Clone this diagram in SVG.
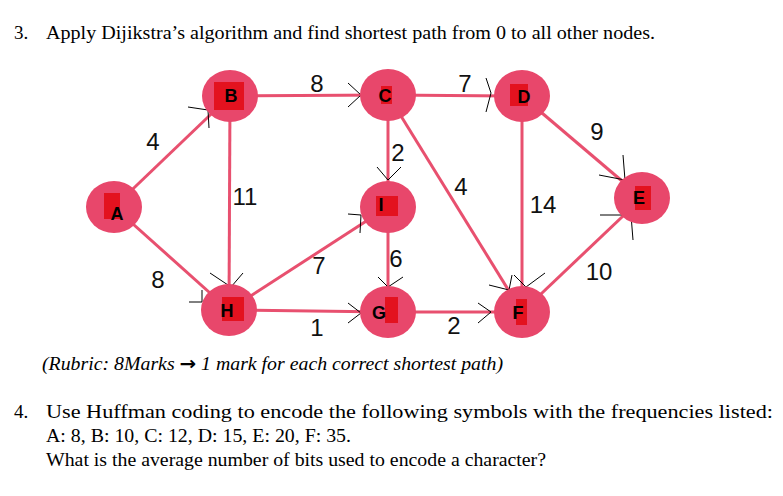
<svg xmlns="http://www.w3.org/2000/svg" width="783" height="496" viewBox="0 0 783 496">
<style>
.t{font-family:"Liberation Serif",serif;font-size:19px;fill:#000}
.e{stroke:#e8506f;stroke-width:3;fill:none}
.a{stroke:#000;stroke-width:1;fill:none}
.n{fill:#e8476b}
.b{fill:#e3121f}
.l{font-family:"Liberation Sans",sans-serif;font-weight:bold;font-size:18px;fill:#000;text-anchor:middle}
.w{font-family:"Liberation Sans",sans-serif;font-size:24px;fill:#111;text-anchor:middle}
</style>
<rect width="783" height="496" fill="#fff"/>
<text class="t" x="14" y="39">3.</text>
<text class="t" x="46" y="39" textLength="609" lengthAdjust="spacingAndGlyphs">Apply Dijikstra’s algorithm and find shortest path from 0 to all other nodes.</text>
<g id="connectors">
<line class="e" x1="114" y1="207" x2="230" y2="96"/>
<line class="e" x1="114" y1="207" x2="229" y2="310"/>
<line class="e" x1="230" y1="96" x2="388" y2="95"/>
<line class="e" x1="230" y1="96" x2="229" y2="310"/>
<line class="e" x1="388" y1="95" x2="522" y2="96"/>
<line class="e" x1="388" y1="95" x2="388" y2="207"/>
<line class="e" x1="388" y1="95" x2="522" y2="312"/>
<line class="e" x1="522" y1="96" x2="642" y2="198"/>
<line class="e" x1="522" y1="96" x2="522" y2="312"/>
<line class="e" x1="229" y1="310" x2="388" y2="207"/>
<line class="e" x1="388" y1="207" x2="388" y2="312"/>
<line class="e" x1="229" y1="310" x2="388" y2="312"/>
<line class="e" x1="388" y1="312" x2="522" y2="312"/>
<line class="e" x1="522" y1="312" x2="642" y2="198"/>
<polyline class="a" points="188,107 208,110 209,128"/>
<polyline class="a" points="348,83 361,95 348,107"/>
<polyline class="a" points="486,78 491,93 486,112"/>
<polyline class="a" points="623,155 625,180 599,175"/>
<polyline class="a" points="600,215 631,215 633,240"/>
<polyline class="a" points="377,167 388,180 401,167"/>
<polyline class="a" points="348,214 361,215 360,233"/>
<polyline class="a" points="378,277 388,287 403,277"/>
<polyline class="a" points="189,302 202,302 202,290"/>
<polyline class="a" points="210,273 231,287 243,273"/>
<polyline class="a" points="348,303 361,313 348,323"/>
<polyline class="a" points="478,303 491,312 478,323"/>
<polyline class="a" points="489,285 509,290 512,275"/>
<polyline class="a" points="514,275 526,287 545,273"/>
<text class="w" x="153" y="150">4</text>
<text class="w" x="317" y="92">8</text>
<text class="w" x="465" y="92">7</text>
<text class="w" x="597" y="140">9</text>
<text class="w" x="398" y="161">2</text>
<text class="w" x="461" y="195">4</text>
<text class="w" x="245" y="205">11</text>
<text class="w" x="543" y="213">14</text>
<text class="w" x="319" y="274">7</text>
<text class="w" x="396" y="267">6</text>
<text class="w" x="158" y="288">8</text>
<text class="w" x="599" y="280">10</text>
<text class="w" x="317" y="336">1</text>
<text class="w" x="454" y="334">2</text>
</g>
<g id="A"><ellipse class="n" cx="114" cy="207" rx="28" ry="26"/><rect class="b" x="104" y="193" width="16" height="26"/><text class="l" x="117" y="220">A</text></g>
<g id="B"><ellipse class="n" cx="230" cy="96" rx="28" ry="26"/><rect class="b" x="214" y="82" width="30" height="28"/><text class="l" x="231" y="102">B</text></g>
<g id="C"><ellipse class="n" cx="388" cy="95" rx="28" ry="26"/><rect class="b" x="381" y="86" width="11" height="18"/><text class="l" x="385" y="102">C</text></g>
<g id="D"><ellipse class="n" cx="522" cy="96" rx="28" ry="26"/><rect class="b" x="510" y="84" width="18" height="22"/><text class="l" x="524" y="103">D</text></g>
<g id="E"><ellipse class="n" cx="642" cy="198" rx="28" ry="26"/><rect class="b" x="635" y="186" width="16" height="24"/><text class="l" x="639" y="204">E</text></g>
<g id="I"><ellipse class="n" cx="388" cy="207" rx="28" ry="26"/><rect class="b" x="376" y="196" width="22" height="20"/><text class="l" x="381" y="211">I</text></g>
<g id="H"><ellipse class="n" cx="229" cy="310" rx="28" ry="26"/><rect class="b" x="222" y="297" width="22" height="24"/><text class="l" x="227" y="317">H</text></g>
<g id="G"><ellipse class="n" cx="388" cy="312" rx="28" ry="26"/><rect class="b" x="385" y="297" width="13" height="26"/><text class="l" x="379" y="319">G</text></g>
<g id="F"><ellipse class="n" cx="522" cy="312" rx="28" ry="26"/><rect class="b" x="516" y="299" width="11" height="26"/><text class="l" x="518" y="319">F</text></g>
<text class="t" x="42" y="370" font-style="italic" textLength="461" lengthAdjust="spacingAndGlyphs">(Rubric: 8Marks <tspan font-family="DejaVu Sans" font-weight="bold" font-style="normal">→</tspan> 1 mark for each correct shortest path)</text>
<text class="t" x="14" y="418">4.</text>
<text class="t" x="46" y="418" textLength="727" lengthAdjust="spacingAndGlyphs">Use Huffman coding to encode the following symbols with the frequencies listed:</text>
<text class="t" x="46" y="442" textLength="305" lengthAdjust="spacingAndGlyphs">A: 8,  B: 10,  C: 12,  D: 15,  E: 20,  F: 35.</text>
<text class="t" x="46" y="466" textLength="500" lengthAdjust="spacingAndGlyphs">What is the average number of bits used to encode a character?</text>
</svg>
